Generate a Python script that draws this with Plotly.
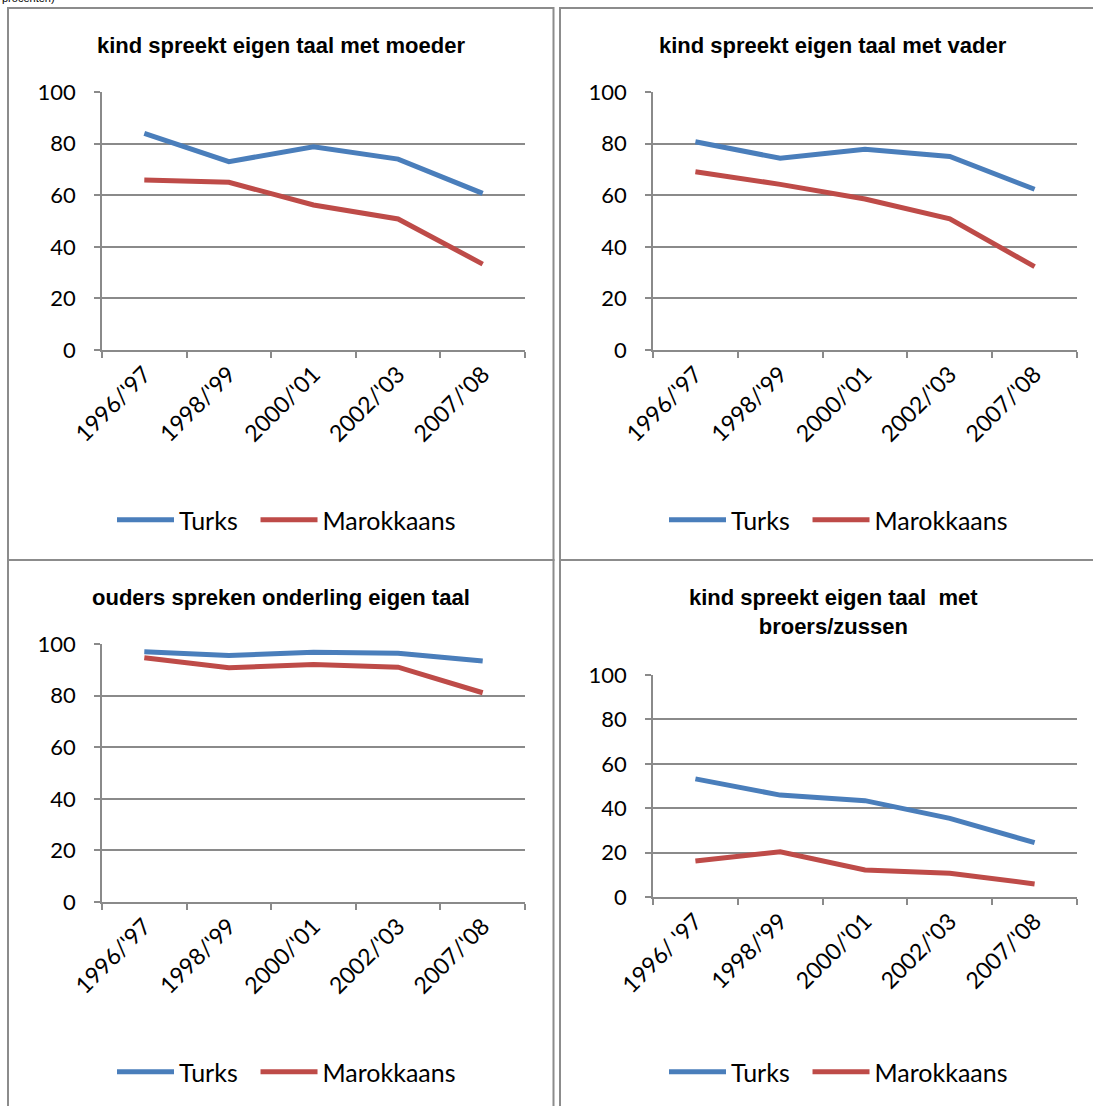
import plotly.graph_objects as go

W, H = 1093, 1106

categories = ["1996/'97", "1998/'99", "2000/'01", "2002/'03", "2007/'08"]
categories_p4 = ["1996/ '97", "1998/'99", "2000/'01", "2002/'03", "2007/'08"]

titles = [
    "kind spreekt eigen taal met moeder",
    "kind spreekt eigen taal met vader",
    "ouders spreken onderling eigen taal",
    "kind spreekt eigen taal\u00a0 met<br>broers/zussen",
]

turks_moeder = [84.0, 73.0, 78.8, 74.0, 60.7]
marok_moeder = [65.9, 65.0, 56.2, 50.8, 33.3]
turks_vader = [80.7, 74.3, 77.8, 75.0, 62.3]
marok_vader = [69.1, 64.2, 58.5, 50.8, 32.3]
turks_ouders = [97.0, 95.5, 96.8, 96.4, 93.4]
marok_ouders = [94.7, 90.8, 92.1, 91.0, 81.1]
turks_broers = [53.2, 45.9, 43.4, 35.4, 24.5]
marok_broers = [16.2, 20.4, 12.2, 10.7, 5.9]

BLUE = "#4A7EBB"
RED = "#BE4B48"
GRID = "#8a8a8a"


def px(x):
    return x / W


def py(y):
    return 1 - y / H


# plot areas in pixels: (left, right, top, bottom)
panels = [
    (102, 525, 92, 350),
    (653, 1077, 92, 350),
    (102, 525, 644, 902),
    (653, 1077, 675, 897),
]
series = [
    (turks_moeder, marok_moeder, categories),
    (turks_vader, marok_vader, categories),
    (turks_ouders, marok_ouders, categories),
    (turks_broers, marok_broers, categories_p4),
]
title_pos = [(281, 45), (833, 45), (281, 597), (833, 612)]
legend_pos = [(112, 520), (664, 520), (112, 1072), (664, 1072)]

fig = go.Figure()

for i, (t, m, cats) in enumerate(series):
    n = "" if i == 0 else str(i + 1)
    leg = "legend" + n
    # trailing spaces widen the gap between the two legend entries
    for name, vals, col in (("Turks\u00a0\u00a0", t, BLUE), ("Marokkaans", m, RED)):
        fig.add_trace(go.Scatter(
            x=cats, y=vals, name=name, mode="lines",
            line=dict(color=col, width=5),
            xaxis="x" + n, yaxis="y" + n, legend=leg,
        ))

    l, r, top, bot = panels[i]
    fig.update_layout({
        "xaxis" + n: dict(
            domain=[px(l), px(r)], anchor="y" + n, type="category",
            range=[-0.5, 4.5], showline=True, linecolor=GRID, linewidth=1.5,
            ticks="outside", tickson="boundaries", ticklen=6, tickcolor=GRID,
            tickwidth=1.5, tickangle=-45, showgrid=False, automargin=False,
            tickfont=dict(family="Lato", size=23, color="black"),
        ),
        "yaxis" + n: dict(
            domain=[py(bot), py(top)], anchor="x" + n, range=[0, 100],
            dtick=20, showline=True, linecolor=GRID, linewidth=1.5,
            ticks="outside", ticklen=6, tickcolor=GRID, tickwidth=1.5,
            showgrid=True, gridcolor=GRID, gridwidth=1.5, zeroline=False,
            ticklabelstandoff=14, automargin=False,
            tickfont=dict(family="Lato", size=22, color="black"),
        ),
        leg: dict(
            x=px(legend_pos[i][0]), y=py(legend_pos[i][1]),
            xanchor="left", yanchor="middle", orientation="h",
            font=dict(family="Lato", size=25, color="black"),
            bgcolor="rgba(0,0,0,0)", itemwidth=57,
        ),
    })

    fig.add_annotation(
        x=px(title_pos[i][0]), y=py(title_pos[i][1]), xref="paper", yref="paper",
        text="<b>" + titles[i] + "</b>", showarrow=False,
        xanchor="center", yanchor="middle",
        font=dict(family="Liberation Sans", size=22, color="black"),
    )

# panel borders
borders = [(8, 553.5, 8, 560), (560, 1100, 8, 560), (8, 553.5, 560, 1110), (560, 1100, 560, 1110)]
for x0, x1, y0, y1 in borders:
    fig.add_shape(type="rect", xref="paper", yref="paper",
                  x0=px(x0), x1=px(x1), y0=py(y1), y1=py(y0),
                  line=dict(color="#8c8c8c", width=2), layer="below")

# the caption above the charts is cut off at the top edge in the source
fig.add_annotation(
    x=0, y=py(6), xref="paper", yref="paper", text="procenten)",
    showarrow=False, xanchor="left", yanchor="bottom",
    font=dict(family="Liberation Sans", size=11, color="black"),
)

fig.update_layout(
    width=W, height=H,
    margin=dict(l=0, r=0, t=0, b=0, autoexpand=False),
    paper_bgcolor="white", plot_bgcolor="white",
)

# drop the default page margin so the figure sits at the window's corner
fig.write_html("out.html", config={"displayModeBar": False},
               post_script="document.body.style.margin='0';")
